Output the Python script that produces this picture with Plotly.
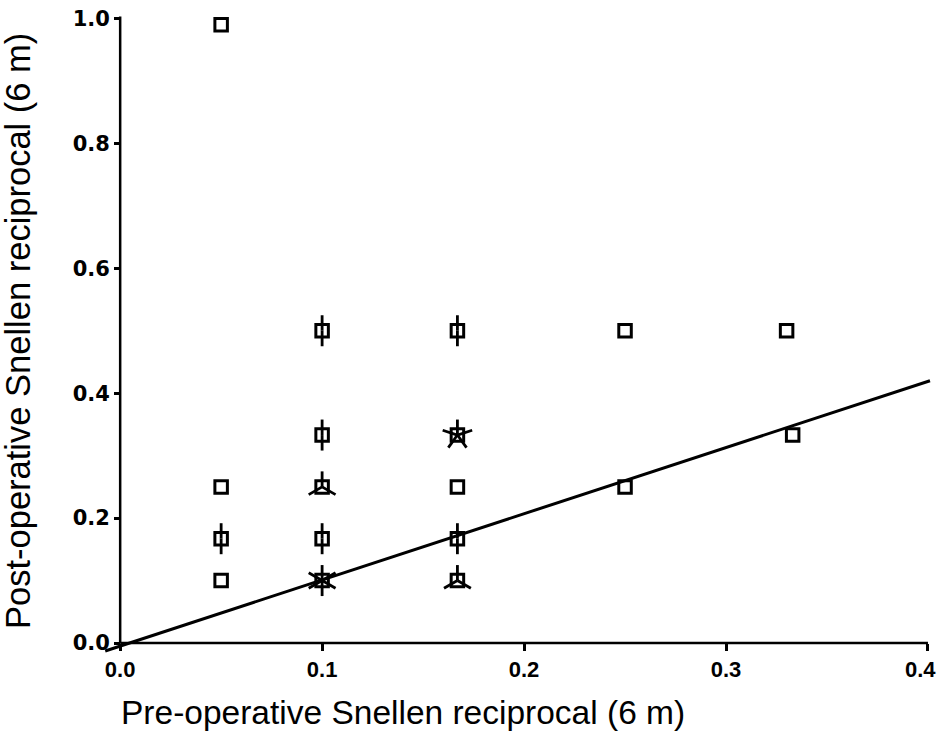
import math
import plotly.graph_objects as go

# ---- data ----
pre_x = [0.05, 0.05, 0.05, 0.05,
         0.1, 0.1, 0.1, 0.1, 0.1,
         0.167, 0.167, 0.167, 0.167, 0.167,
         0.25, 0.25,
         0.33, 0.333]
post_y = [0.99, 0.25, 0.167, 0.1,
          0.5, 0.333, 0.25, 0.167, 0.1,
          0.5, 0.333, 0.25, 0.167, 0.1,
          0.5, 0.25,
          0.5, 0.333]
counts = [1, 1, 2, 1,
          2, 2, 3, 2, 6,
          2, 5, 1, 2, 3,
          1, 1,
          1, 1]

line_x = [-0.0074, 0.401]
line_y = [-0.0128, 0.420]

x_ticks = [0.0, 0.1, 0.2, 0.3, 0.4]
x_tick_text = ["0.0", "0.1", "0.2", "0.3", "0.4"]
y_ticks = [0.0, 0.2, 0.4, 0.6, 0.8, 1.0]
y_tick_text = ["0.0", "0.2", "0.4", "0.6", "0.8", "1.0"]

x_title = "Pre-operative Snellen reciprocal (6 m)"
y_title = "Post-operative Snellen reciprocal (6 m)"

# ---- layout constants ----
W, H = 939, 732
ML, MR, MT, MB = 103, 7, 16, 79
XR = [-0.0085, 0.402]
YR = [-0.016, 1.004]
PW, PH = W - ML - MR, H - MT - MB
ppx = PW / (XR[1] - XR[0])   # pixels per x unit
ppy = PH / (YR[1] - YR[0])   # pixels per y unit
PETAL = 15.5  # petal length in px
XTICKFONT = dict(family="Liberation Sans", size=22, color="black", weight="bold")


def paper_x(px_):
    return (px_ - ML) / PW


def paper_y(py_):
    return (H - MB - py_) / PH


# sunflower petals
px, py = [], []
for x, y, n in zip(pre_x, post_y, counts):
    if n < 2:
        continue
    for k in range(n):
        a = math.radians(90 + 360.0 * k / n)
        px += [x, x + PETAL * math.cos(a) / ppx, None]
        py += [y, y + PETAL * math.sin(a) / ppy, None]

fig = go.Figure()
fig.add_trace(go.Scatter(x=line_x, y=line_y, mode="lines",
                         line=dict(color="black", width=3),
                         hoverinfo="skip", showlegend=False))
fig.add_trace(go.Scatter(x=px, y=py, mode="lines",
                         line=dict(color="black", width=2.8),
                         hoverinfo="skip", showlegend=False))
fig.add_trace(go.Scatter(x=pre_x, y=post_y, mode="markers",
                         marker=dict(symbol="square-open", size=12.5, color="black",
                                     line=dict(color="black", width=3)),
                         showlegend=False))

# axis lines from 0
fig.add_shape(type="line", xref="x", yref="y", x0=x_ticks[0], x1=x_ticks[-1], y0=0, y1=0,
              line=dict(color="black", width=2.5))
fig.add_shape(type="line", xref="x", yref="y", x0=0, x1=0, y0=y_ticks[0], y1=y_ticks[-1] + 0.003,
              line=dict(color="black", width=2.5))

# last x tick label, nudged left so it stays inside the page (as in the reference)
fig.add_annotation(text=x_tick_text[-1], xref="x", yref="y", x=x_ticks[-1], y=0,
                   xanchor="center", yanchor="top", xshift=-7, yshift=-12,
                   showarrow=False, font=XTICKFONT)

# axis titles
fig.add_annotation(text=x_title, xref="paper", yref="paper",
                   x=paper_x(403), y=paper_y(712), xanchor="center", yanchor="middle",
                   showarrow=False,
                   font=dict(family="Liberation Sans", size=33.5, color="black"))
fig.add_annotation(text=y_title, xref="paper", yref="paper", textangle=-90,
                   x=paper_x(18), y=paper_y(331), xanchor="center", yanchor="middle",
                   showarrow=False,
                   font=dict(family="Liberation Sans", size=34.5, color="black"))

fig.update_layout(
    width=W, height=H,
    margin=dict(l=ML, r=MR, t=MT, b=MB, autoexpand=False),
    paper_bgcolor="white", plot_bgcolor="white",
    showlegend=False,
    xaxis=dict(range=XR, anchor="free", position=(0 - YR[0]) / (YR[1] - YR[0]),
               showgrid=False, zeroline=False, showline=False,
               tickmode="array", tickvals=x_ticks, ticktext=x_tick_text[:-1] + [""],
               ticks="outside", ticklen=7, tickwidth=2.5, tickcolor="black",
               ticklabeloverflow="allow", tickfont=XTICKFONT),
    yaxis=dict(range=YR, anchor="free", position=(0 - XR[0]) / (XR[1] - XR[0]),
               showgrid=False, zeroline=False, showline=False,
               tickmode="array", tickvals=y_ticks, ticktext=y_tick_text,
               ticks="outside", ticklen=6, tickwidth=2.5, tickcolor="black",
               ticklabeloverflow="allow",
               tickfont=dict(family="DejaVu Sans", size=21, color="black", weight="bold")),
)

fig.write_html("out.html", config={"displayModeBar": False},
               post_script="document.body.style.margin='0px';")
